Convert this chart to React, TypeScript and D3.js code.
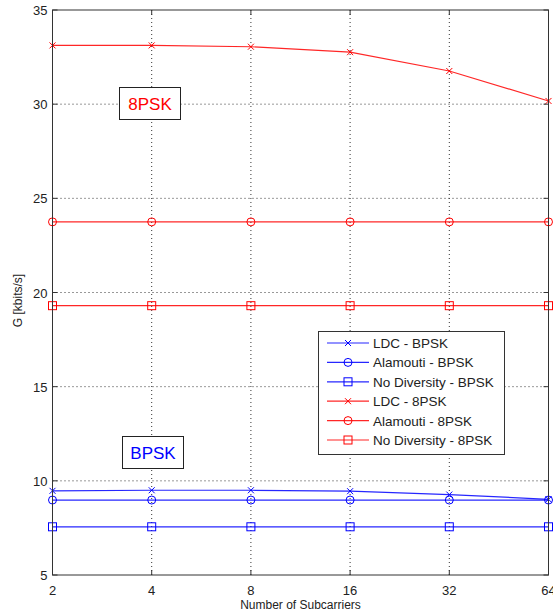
import React from "react";
import * as d3 from "d3";

const subcarriers = [2, 4, 8, 16, 32, 64];
const xTicks = [2, 4, 8, 16, 32, 64];
const yTicks = [5, 10, 15, 20, 25, 30, 35];

const ldcBpsk = [9.47, 9.5, 9.5, 9.45, 9.27, 9.02];
const alamoutiBpsk = [8.98, 8.98, 8.98, 8.98, 8.98, 8.98];
const noDivBpsk = [7.56, 7.56, 7.56, 7.56, 7.56, 7.56];
const ldc8psk = [33.12, 33.12, 33.05, 32.76, 31.76, 30.17];
const alamouti8psk = [23.75, 23.75, 23.75, 23.75, 23.75, 23.75];
const noDiv8psk = [19.3, 19.3, 19.3, 19.3, 19.3, 19.3];

const seriesNames = [
  "LDC - BPSK",
  "Alamouti - BPSK",
  "No Diversity - BPSK",
  "LDC - 8PSK",
  "Alamouti - 8PSK",
  "No Diversity - 8PSK",
];
const seriesValues = [ldcBpsk, alamoutiBpsk, noDivBpsk, ldc8psk, alamouti8psk, noDiv8psk];
const seriesColors = ["#0000ff", "#0000ff", "#0000ff", "#ff0000", "#ff0000", "#ff0000"];
const seriesMarkers = ["x", "o", "s", "x", "o", "s"];

const W = 553;
const H = 615;
const L = 52.5, R = 548.5, T = 10, B = 575;

const x = d3.scaleLog().base(2).domain([2, 64]).range([L, R]);
const y = d3.scaleLinear().domain([5, 35]).range([B, T]);

const font = "'Liberation Sans', Arial, sans-serif";

function Marker({ type, cx, cy, color }: { type: string; cx: number; cy: number; color: string }) {
  if (type === "x") {
    const s = 3;
    return (
      <path d={`M${cx - s},${cy - s}L${cx + s},${cy + s}M${cx - s},${cy + s}L${cx + s},${cy - s}`} stroke={color} strokeWidth={1} fill="none" />
    );
  }
  if (type === "o") {
    return <circle cx={cx} cy={cy} r={4} stroke={color} strokeWidth={1} fill="none" />;
  }
  return <rect x={cx - 4} y={cy - 4} width={8} height={8} stroke={color} strokeWidth={1} fill="none" />;
}

export default function App() {
  const line = d3
    .line<[number, number]>()
    .x((d) => x(d[0]))
    .y((d) => y(d[1]));

  const legendX = 318, legendY = 331, legendW = 186, legendH = 123;
  const rowH = 19.4;

  return (
    <svg width={W} height={H} style={{ position: "absolute", left: 0, top: 0, background: "#fff" }}>
      <rect x={0} y={0} width={W} height={H} fill="#fff" />
      {/* grid */}
      {xTicks.slice(1, -1).map((t) => (
        <line key={"gx" + t} x1={x(t)} x2={x(t)} y1={T} y2={B} stroke="#333" strokeWidth={1} strokeDasharray="1,3" />
      ))}
      {yTicks.slice(1, -1).map((t) => (
        <line key={"gy" + t} x1={L} x2={R} y1={y(t)} y2={y(t)} stroke="#333" strokeWidth={1} strokeDasharray="1,3" />
      ))}
      {/* series */}
      {seriesValues.map((vals, i) => {
        const pts = subcarriers.map((s, j) => [s, vals[j]] as [number, number]);
        return (
          <g key={"s" + i}>
            <path d={line(pts) || ""} fill="none" stroke={seriesColors[i]} strokeWidth={1.2} strokeOpacity={0.85} />
            {pts.map((p, j) => (
              <Marker key={j} type={seriesMarkers[i]} cx={x(p[0])} cy={y(p[1])} color={seriesColors[i]} />
            ))}
          </g>
        );
      })}
      {/* axes box */}
      <rect x={L} y={T} width={R - L} height={B - T} fill="none" stroke="#333" strokeWidth={1} />
      {/* ticks */}
      {xTicks.map((t) => (
        <g key={"tx" + t}>
          <line x1={x(t)} x2={x(t)} y1={B} y2={B - 5} stroke="#333" />
          <line x1={x(t)} x2={x(t)} y1={T} y2={T + 5} stroke="#333" />
          <text x={x(t)} y={B + 20} textAnchor="middle" fontFamily={font} fontSize={13} fill="#222">
            {t}
          </text>
        </g>
      ))}
      {yTicks.map((t) => (
        <g key={"ty" + t}>
          <line x1={L} x2={L + 5} y1={y(t)} y2={y(t)} stroke="#333" />
          <line x1={R} x2={R - 5} y1={y(t)} y2={y(t)} stroke="#333" />
          <text x={L - 5} y={y(t) + 5} textAnchor="end" fontFamily={font} fontSize={13} fill="#222">
            {t}
          </text>
        </g>
      ))}
      {/* axis labels */}
      <text x={(L + R) / 2} y={609} textAnchor="middle" fontFamily={font} fontSize={12} fill="#222">
        Number of Subcarriers
      </text>
      <text transform={`translate(22,${(T + B) / 2 + 8}) rotate(-90)`} textAnchor="middle" fontFamily={font} fontSize={12} fill="#222">
        G [kbits/s]
      </text>
      {/* annotation boxes */}
      <rect x={119.5} y={87.5} width={61} height={32} fill="#fff" stroke="#222" strokeWidth={1} />
      <text x={150} y={110} textAnchor="middle" fontFamily={font} fontSize={17} fill="#ff0000">
        8PSK
      </text>
      <rect x={122.5} y={436.5} width={61} height={32} fill="#fff" stroke="#222" strokeWidth={1} />
      <text x={153} y={459} textAnchor="middle" fontFamily={font} fontSize={17} fill="#0000ff">
        BPSK
      </text>
      {/* legend */}
      <rect x={legendX + 0.5} y={legendY + 0.5} width={legendW} height={legendH} fill="#fff" stroke="#333" strokeWidth={1} />
      {seriesNames.map((name, i) => {
        const ry = legendY + 12 + i * rowH;
        return (
          <g key={"lg" + i}>
            <line x1={327} x2={369} y1={ry} y2={ry} stroke={seriesColors[i]} strokeWidth={1.2} strokeOpacity={0.85} />
            <Marker type={seriesMarkers[i]} cx={348} cy={ry} color={seriesColors[i]} />
            <text x={373} y={ry + 5} fontFamily={font} fontSize={13.5} fill="#222">
              {name}
            </text>
          </g>
        );
      })}
    </svg>
  );
}
